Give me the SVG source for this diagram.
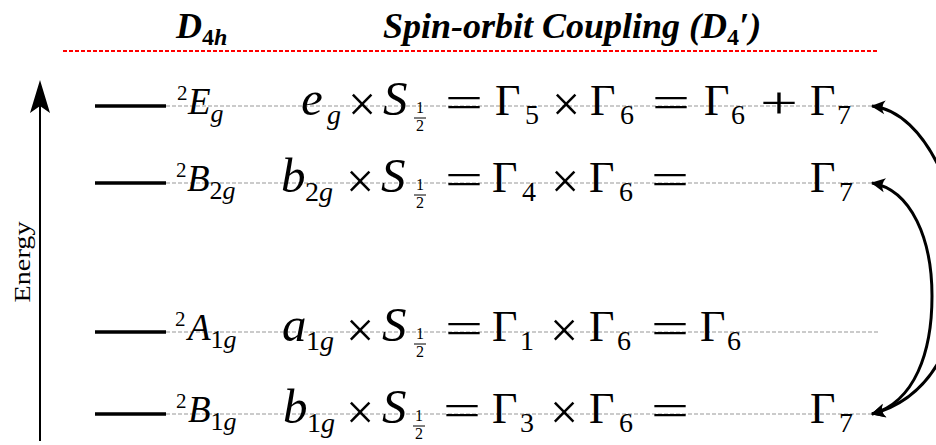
<svg xmlns="http://www.w3.org/2000/svg" width="936" height="445" viewBox="0 0 936 445">
<style>
.m{font-family:"Liberation Serif",serif;font-size:44px;fill:#000}
.L{font-size:49px}
.i{font-style:italic}
.s{font-size:28px}
.fr{font-family:"Liberation Serif",serif;font-size:16px;text-anchor:middle}
.lab{font-family:"Liberation Serif",serif;font-size:37px;font-style:italic}
.sup{font-family:"Liberation Serif",serif;font-size:21px}
.ls{font-size:26px}
.up{font-style:normal}
.op{font-family:"Liberation Serif",serif;text-anchor:middle}
.eq{font-size:44px}
.x{font-size:50px}
.t{font-family:"Liberation Serif",serif;font-size:36px;font-weight:bold;font-style:italic}
.dash{stroke:#bbb;stroke-width:1.5;stroke-dasharray:4 2;fill:none}
.lev{stroke:#000;stroke-width:3.5}
.cv{stroke:#000;stroke-width:3;fill:none;marker-start:url(#ah);marker-end:url(#ah)}
</style>
<defs>
<marker id="ah" viewBox="-15 -9 17 18" refX="0" refY="0" markerWidth="17" markerHeight="18" markerUnits="userSpaceOnUse" orient="auto-start-reverse">
<path d="M1,0 L-13,-7 Q-8,0 -13,7 Z" fill="#000"/>
</marker>
</defs>

<g id="header">
<text class="t" x="176" y="38">D<tspan font-size="24" dy="7" font-style="normal">4</tspan><tspan font-size="24">h</tspan></text>
<text class="t" x="383" y="38">Spin-orbit Coupling (D<tspan font-size="24" dy="7" font-style="normal">4</tspan><tspan dy="-7">′)</tspan></text>
<line x1="63" y1="51" x2="877" y2="51" stroke="#f00" stroke-width="2" stroke-dasharray="4 2"/>
</g>

<g id="energy-axis">
<line x1="40" y1="441" x2="40" y2="100" stroke="#000" stroke-width="2"/>
<path d="M40,80 L50,113 L40,106 L30,113 Z" fill="#000"/>
<text x="0" y="0" transform="translate(30,262) rotate(-90)" font-family="Liberation Serif,serif" font-size="24" text-anchor="middle" textLength="81" lengthAdjust="spacingAndGlyphs">Energy</text>
</g>

<g id="guides">
<line class="dash" x1="166" y1="106" x2="877" y2="106"/>
<line class="dash" x1="166" y1="183" x2="877" y2="183"/>
<line class="dash" x1="166" y1="332" x2="878" y2="332"/>
<line class="dash" x1="166" y1="414" x2="877" y2="414"/>
</g>

<g id="level-Eg">
<line class="lev" x1="95" y1="106" x2="166" y2="106"/>
<text class="sup" x="177" y="100">2</text>
<text class="lab" x="188" y="114">E<tspan class="ls" dy="8">g</tspan></text>
<text class="m L i" x="301" y="115">e</text>
<text class="m i s" x="327" y="124">g</text>
<text class="op x" x="362" y="121">×</text>
<text class="m L i" x="383" y="115">S</text>
<text class="fr" x="420" y="113">1</text><line x1="414" y1="118" x2="426" y2="118" stroke="#000" stroke-width="1"/><text class="fr" x="420" y="131">2</text>
<text class="op eq" x="464" y="117" textLength="38" lengthAdjust="spacingAndGlyphs">=</text>
<text class="m" x="495" y="115">Γ</text><text class="m s" x="525" y="124">5</text>
<text class="op x" x="566" y="121">×</text>
<text class="m" x="590" y="115">Γ</text><text class="m s" x="620" y="124">6</text>
<text class="op eq" x="671" y="117" textLength="38" lengthAdjust="spacingAndGlyphs">=</text>
<text class="m" x="704" y="115">Γ</text><text class="m s" x="731" y="124">6</text>
<text class="op eq" x="779" y="118" textLength="38" lengthAdjust="spacingAndGlyphs">+</text>
<text class="m" x="810" y="115">Γ</text><text class="m s" x="837" y="124">7</text>
</g>

<g id="level-B2g">
<line class="lev" x1="95" y1="183" x2="166" y2="183"/>
<text class="sup" x="176" y="177">2</text>
<text class="lab" x="187" y="191">B<tspan class="ls up" dy="8">2</tspan><tspan class="ls">g</tspan></text>
<text class="m L i" x="281" y="192">b</text>
<text class="m s" x="305" y="201">2<tspan class="i">g</tspan></text>
<text class="op x" x="360" y="198">×</text>
<text class="m L i" x="381" y="192">S</text>
<text class="fr" x="420" y="190">1</text><line x1="414" y1="195" x2="426" y2="195" stroke="#000" stroke-width="1"/><text class="fr" x="420" y="208">2</text>
<text class="op eq" x="464" y="194" textLength="38" lengthAdjust="spacingAndGlyphs">=</text>
<text class="m" x="492" y="192">Γ</text><text class="m s" x="522" y="201">4</text>
<text class="op x" x="565" y="198">×</text>
<text class="m" x="589" y="192">Γ</text><text class="m s" x="619" y="201">6</text>
<text class="op eq" x="670" y="194" textLength="38" lengthAdjust="spacingAndGlyphs">=</text>
<text class="m" x="810" y="192">Γ</text><text class="m s" x="839" y="201">7</text>
</g>

<g id="level-A1g">
<line class="lev" x1="95" y1="332" x2="166" y2="332"/>
<text class="sup" x="175" y="326">2</text>
<text class="lab" x="188" y="340">A<tspan class="ls up" dy="8">1</tspan><tspan class="ls">g</tspan></text>
<text class="m L i" x="282" y="341">a</text>
<text class="m s" x="306" y="350">1<tspan class="i">g</tspan></text>
<text class="op x" x="360" y="347">×</text>
<text class="m L i" x="382" y="341">S</text>
<text class="fr" x="420" y="339">1</text><line x1="414" y1="344" x2="426" y2="344" stroke="#000" stroke-width="1"/><text class="fr" x="420" y="357">2</text>
<text class="op eq" x="464" y="343" textLength="38" lengthAdjust="spacingAndGlyphs">=</text>
<text class="m" x="492" y="341">Γ</text><text class="m s" x="520" y="350">1</text>
<text class="op x" x="564" y="347">×</text>
<text class="m" x="589" y="341">Γ</text><text class="m s" x="617" y="350">6</text>
<text class="op eq" x="670" y="343" textLength="38" lengthAdjust="spacingAndGlyphs">=</text>
<text class="m" x="700" y="341">Γ</text><text class="m s" x="727" y="350">6</text>
</g>

<g id="level-B1g">
<line class="lev" x1="95" y1="414" x2="166" y2="414"/>
<text class="sup" x="176" y="408">2</text>
<text class="lab" x="188" y="422">B<tspan class="ls up" dy="8">1</tspan><tspan class="ls">g</tspan></text>
<text class="m L i" x="283" y="423">b</text>
<text class="m s" x="307" y="432">1<tspan class="i">g</tspan></text>
<text class="op x" x="360" y="429">×</text>
<text class="m L i" x="382" y="423">S</text>
<text class="fr" x="419" y="421">1</text><line x1="413" y1="426" x2="425" y2="426" stroke="#000" stroke-width="1"/><text class="fr" x="419" y="439">2</text>
<text class="op eq" x="462" y="425" textLength="38" lengthAdjust="spacingAndGlyphs">=</text>
<text class="m" x="492" y="423">Γ</text><text class="m s" x="520" y="432">3</text>
<text class="op x" x="564" y="429">×</text>
<text class="m" x="589" y="423">Γ</text><text class="m s" x="619" y="432">6</text>
<text class="op eq" x="670" y="425" textLength="38" lengthAdjust="spacingAndGlyphs">=</text>
<text class="m" x="810" y="423">Γ</text><text class="m s" x="839" y="432">7</text>
</g>

<g id="connectors">
<path class="cv" d="M872,106 C928,112 962,205 962,262 C962,325 940,396 872,414"/>
<path class="cv" d="M872,183 C912,190 932,240 932,296 C932,352 915,402 872,414"/>
</g>
</svg>
